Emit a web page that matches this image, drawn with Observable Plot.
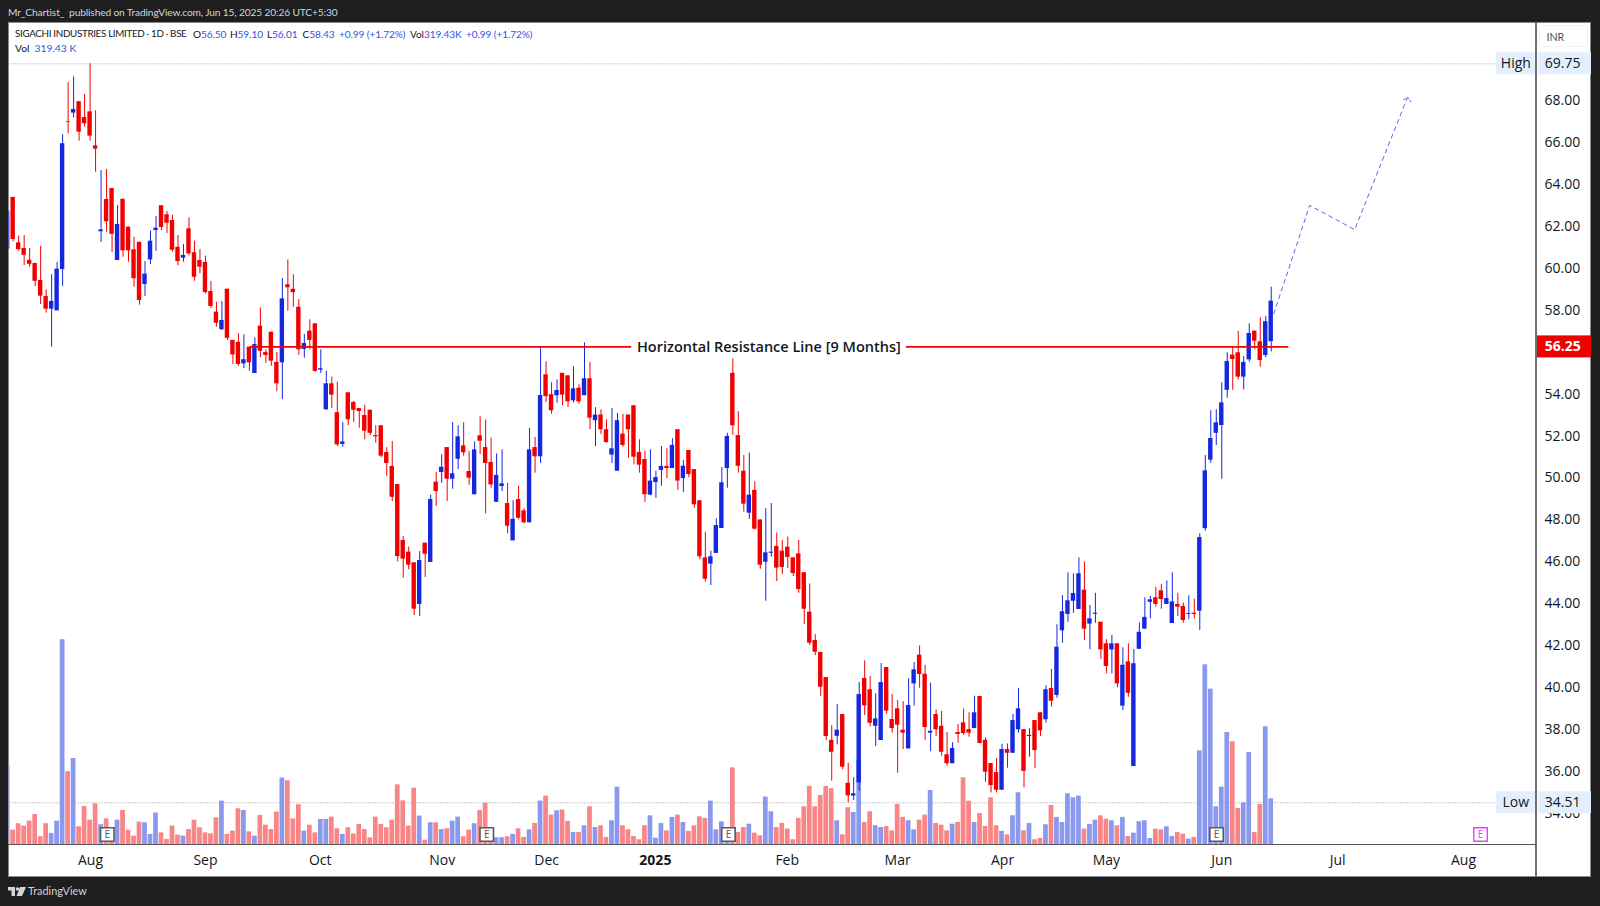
<!DOCTYPE html>
<html>
<head>
<meta charset="utf-8">
<script src="https://cdn.jsdelivr.net/npm/d3@7"></script>
<script src="https://cdn.jsdelivr.net/npm/@observablehq/plot@0.6"></script>
<style>
html,body{margin:0;padding:0;width:1600px;height:906px;overflow:hidden;background:#1e1e1e;}
#wrap{position:relative;width:1600px;height:906px;font-family:"Open Sans",sans-serif;}
.t{position:absolute;white-space:nowrap;line-height:1;font-family:Lato,sans-serif;}
#panel{position:absolute;left:8px;top:22px;width:1583px;height:855px;background:#fff;box-sizing:border-box;border:1px solid #8a8a8a;}
#vline{position:absolute;left:1535px;top:22px;width:2px;height:855px;background:#6f6f6f;}
#hline{position:absolute;left:8px;top:844px;width:1528px;height:1.4px;background:#555;}
#inr{position:absolute;left:1539px;top:25px;width:49px;height:22px;border:1px solid #f0f3fa;border-radius:4px;box-sizing:border-box;}
svg.plot{position:absolute;left:0;top:0;}
.v{color:#3553e4}
.k{color:#131722}
.l{font-size:10.1px;top:29px;letter-spacing:-0.1px}
.l2{font-size:10.3px;top:43px}
</style>
</head>
<body>
<div id="wrap">
<div id="panel"></div>
<div id="chart"></div>
<div id="vline"></div>
<div id="hline"></div>
<div id="inr"></div>
<div class="t" style="left:8px;top:7px;font-size:10.2px;letter-spacing:-0.14px;color:#d1d4dc">Mr_Chartist_ &nbsp;published on TradingView.com, Jun 15, 2025 20:26 UTC+5:30</div>
<div class="t k l" style="left:15px;font-size:9.8px;letter-spacing:-0.32px">SIGACHI INDUSTRIES LIMITED · 1D · BSE</div>
<div class="t k l" style="left:193px">O<span class="v">56.50</span></div>
<div class="t k l" style="left:230px">H<span class="v">59.10</span></div>
<div class="t k l" style="left:267px">L<span class="v">56.01</span></div>
<div class="t k l" style="left:302.5px">C<span class="v">58.43</span></div>
<div class="t v l" style="left:339px">+0.99 (+1.72%)</div>
<div class="t k l" style="left:410px">Vol<span class="v">319.43K</span></div>
<div class="t v l" style="left:466px">+0.99 (+1.72%)</div>
<div class="t k l2" style="left:15px">Vol</div>
<div class="t v l2" style="left:34.5px">319.43 K</div>
<div class="t" style="left:1546.5px;top:32px;font-size:10.6px;color:#4a4f5c">INR</div>
<svg width="18" height="10" style="position:absolute;left:8px;top:887px" viewBox="0 0 36 20"><path fill="#d1d4dc" d="M0 0h14v18H7V7H0zM24 0h12l-8 18H17z"/><circle cx="19" cy="4" r="3.6" fill="#d1d4dc"/></svg>
<div class="t" style="left:28px;top:885.5px;font-size:10.9px;color:#d1d4dc">TradingView</div>
</div>
<script>
const open = [
60.91,63.38,61.21,60.94,60.38,60.23,59.42,58.65,58.05,57.97,
59.94,66.98,67.40,67.94,67.19,67.46,65.84,61.74,63.28,63.80,
60.37,63.29,61.96,60.88,61.24,59.23,60.40,61.80,62.98,62.55,
62.28,61.00,60.48,61.88,60.74,60.37,60.28,58.89,57.91,57.07,
59.00,56.56,56.47,55.44,56.24,54.98,57.24,55.98,56.95,55.51,
55.49,59.21,59.00,58.14,56.13,57.00,57.35,55.14,53.25,54.49,
53.11,51.60,54.06,53.60,53.31,52.98,53.23,52.02,52.49,51.21,
50.55,49.69,47.02,46.46,45.95,43.97,46.89,45.97,49.80,50.26,
51.45,49.94,50.89,51.53,50.31,49.20,52.01,51.45,50.74,48.84,
49.59,48.78,47.00,48.97,48.43,47.86,51.45,51.01,54.92,53.97,
53.92,54.99,54.87,53.68,54.28,53.92,54.73,52.73,53.00,52.30,
51.09,50.32,52.09,53.00,53.44,51.21,50.88,49.18,49.78,50.36,
50.55,50.45,52.30,49.97,51.31,50.40,48.91,46.19,45.89,46.40,
47.59,50.45,54.99,52.02,50.32,48.32,49.41,48.00,45.98,46.41,
46.73,46.51,46.70,46.19,46.38,45.48,43.60,42.25,41.68,40.48,
37.49,37.68,38.72,35.44,34.83,35.46,40.44,39.90,38.16,37.48,
40.96,38.48,38.99,37.97,37.08,40.18,41.55,40.64,37.83,38.72,
38.16,36.80,36.37,37.86,38.32,38.00,38.05,39.58,37.49,36.38,
35.95,35.11,37.05,36.87,37.99,38.00,37.67,38.43,38.80,38.47,
39.96,39.63,42.71,43.49,44.12,43.73,44.65,43.03,43.50,43.12,
42.09,41.80,42.09,39.12,41.23,36.24,41.83,42.79,44.07,44.29,
44.62,43.97,43.06,43.97,43.87,43.49,43.55,43.65,47.58,50.85,
52.13,52.50,54.18,55.86,55.97,54.81,55.63,57.00,56.49,55.84,
56.50];
const close = [
62.72,61.37,60.89,60.62,60.19,59.38,58.67,58.05,58.42,59.96,
65.94,66.95,67.57,66.49,66.89,66.30,65.68,61.83,62.22,61.62,
62.09,60.83,60.83,59.50,58.46,59.72,61.29,61.91,61.94,62.15,
60.86,60.32,60.61,60.69,59.57,60.05,58.84,58.18,57.38,57.51,
56.66,55.87,55.41,55.64,55.49,56.36,56.04,55.84,55.57,54.49,
58.54,59.07,58.84,56.11,56.41,56.56,55.08,55.21,54.49,53.95,
51.58,51.72,52.77,53.23,53.17,52.23,52.13,51.96,51.04,50.69,
49.08,46.25,46.13,45.84,43.74,46.06,46.36,48.97,49.35,50.51,
49.94,50.20,51.96,51.20,49.99,51.34,51.75,50.69,49.67,50.12,
49.72,47.70,48.03,48.08,47.86,51.34,51.01,53.93,53.88,53.20,
54.17,53.95,53.63,54.25,53.63,54.73,52.85,53.00,52.30,51.69,
51.39,52.73,51.55,52.30,50.99,50.61,49.20,49.85,50.02,50.55,
50.45,51.55,49.85,50.56,50.16,48.72,46.24,45.17,46.24,47.73,
49.77,51.98,52.49,50.56,48.75,49.18,47.56,45.84,46.43,46.46,
45.70,45.73,46.21,45.44,44.68,43.74,42.12,41.69,40.02,37.67,
36.92,37.97,36.21,34.84,34.94,39.67,39.13,38.30,38.51,40.24,
38.88,38.05,38.21,37.83,39.15,40.85,40.63,38.10,37.92,37.99,
36.92,36.37,37.10,37.77,37.81,37.83,38.80,37.34,35.97,35.33,
35.11,37.05,36.87,38.43,38.99,36.01,37.72,37.00,37.94,39.90,
39.35,41.93,43.62,44.14,44.49,45.43,42.79,43.28,43.55,41.80,
41.01,42.09,40.18,41.07,39.73,41.14,42.64,43.35,44.19,43.97,
44.20,44.25,44.09,43.84,43.20,43.53,43.49,47.16,50.34,51.88,
52.63,53.58,55.55,55.65,54.81,55.51,56.89,56.52,55.60,57.45,
58.43];
const high = [
62.72,63.38,61.53,61.56,60.94,60.23,61.05,58.97,59.69,60.28,
66.37,68.85,69.13,67.94,68.29,69.75,67.51,64.66,64.71,63.80,
62.99,63.29,61.96,61.48,61.24,60.32,61.77,62.47,62.98,62.71,
62.52,61.56,61.13,62.41,61.29,60.89,60.58,59.37,58.38,58.42,
59.00,56.56,56.88,56.83,56.24,56.68,58.11,56.11,56.95,55.98,
59.51,60.40,59.69,58.51,56.84,57.54,57.35,56.11,55.08,54.81,
54.57,52.64,54.06,53.65,53.31,53.47,53.23,52.49,52.49,51.44,
51.74,49.69,47.21,46.70,45.95,46.49,46.89,49.18,50.27,51.10,
51.45,52.64,52.49,52.64,51.26,51.72,52.92,52.76,51.90,51.15,
51.34,49.74,48.91,49.61,48.53,52.36,51.93,56.22,55.54,54.54,
54.68,54.99,54.87,55.30,54.44,56.44,55.51,53.35,53.25,52.77,
53.31,53.07,53.03,53.00,53.44,51.82,51.28,51.34,50.32,51.50,
51.39,51.87,52.30,50.83,51.31,50.40,48.91,47.41,46.51,48.05,
50.49,52.13,55.68,53.16,51.07,51.18,49.82,48.00,48.54,48.78,
47.38,47.02,47.18,46.19,47.02,45.48,44.95,42.53,41.68,40.48,
38.19,39.20,38.72,36.40,35.70,40.25,41.28,40.53,39.71,41.15,
40.96,39.67,39.39,39.33,40.42,41.20,41.99,41.06,40.21,38.94,
38.86,37.86,37.38,38.24,38.99,38.80,39.59,39.58,37.61,36.38,
36.63,37.30,37.32,38.72,39.97,38.00,38.04,38.43,38.80,40.09,
40.87,43.00,44.39,45.48,45.43,46.19,46.00,43.92,44.50,43.12,
42.28,42.49,42.09,41.90,42.09,41.82,43.09,44.28,44.35,44.78,
44.93,45.09,45.48,44.50,44.03,44.38,44.22,47.34,51.07,53.20,
53.26,54.54,55.97,56.24,57.00,55.79,57.35,57.00,57.64,57.71,
59.10];
const low = [
60.91,61.26,60.81,60.13,60.05,59.13,58.27,57.86,56.24,57.97,
59.14,66.41,67.16,66.06,66.73,66.06,64.58,61.23,61.72,60.75,
60.37,60.53,60.29,59.10,58.24,58.65,60.18,60.81,61.80,61.66,
60.77,60.12,60.29,60.59,59.38,59.74,58.78,58.08,57.19,57.03,
56.56,55.41,55.33,55.21,55.09,54.98,55.73,55.47,55.33,54.11,
53.74,57.95,58.14,55.84,55.71,56.11,55.04,54.98,53.22,53.31,
51.50,51.47,52.49,52.64,52.37,51.82,52.02,51.66,50.96,50.08,
48.88,46.00,45.22,45.62,43.44,43.39,45.25,45.97,48.64,49.74,
48.88,49.46,50.40,51.04,49.65,49.20,51.12,48.29,49.51,48.84,
49.35,47.34,47.00,48.00,47.81,47.86,50.23,50.69,53.60,53.04,
53.57,53.44,53.36,53.57,53.52,53.92,52.30,51.50,52.06,51.66,
50.69,50.32,51.47,50.94,50.63,50.23,48.83,49.15,49.03,49.61,
49.97,50.45,49.40,49.31,50.01,48.56,46.10,45.03,44.87,46.40,
47.59,49.51,52.04,50.23,48.37,48.02,47.51,45.65,44.12,46.22,
45.06,45.39,45.68,45.30,44.50,43.01,42.01,41.53,39.59,37.48,
35.54,37.27,36.08,34.51,34.62,35.06,38.67,38.13,37.19,37.48,
38.73,37.83,35.92,37.05,37.08,39.12,39.97,37.49,36.95,37.67,
36.73,36.25,36.37,37.35,37.73,37.64,38.05,37.32,35.48,34.98,
34.98,35.11,36.16,36.87,37.83,35.22,36.68,36.13,37.67,38.31,
39.07,39.50,42.12,43.12,43.55,43.73,42.25,41.80,43.07,41.34,
40.66,40.66,39.99,38.91,39.54,36.24,41.83,42.79,43.28,43.84,
43.74,43.97,43.06,43.39,43.07,43.24,43.27,42.73,47.46,50.70,
51.55,49.94,53.80,54.18,54.68,54.20,55.52,56.11,55.28,55.73,
56.01];
const volumeK = [
548,102,146,130,164,210,56,146,79,164,
1423,507,599,125,266,171,284,139,180,120,
171,238,102,60,157,153,72,220,83,37,
130,67,60,106,171,118,83,76,187,303,
72,95,250,238,90,60,204,136,106,227,
463,444,180,278,95,136,83,176,176,192,
111,72,118,76,141,106,49,192,141,118,
171,416,305,130,393,199,32,153,153,106,
111,164,192,56,102,146,238,289,120,49,
49,56,72,111,51,104,148,303,338,206,
236,241,162,86,86,132,264,120,132,51,
167,400,132,104,58,35,132,201,46,148,
97,190,206,155,93,132,194,183,303,104,
160,99,534,86,120,143,81,62,331,229,
120,148,109,35,183,264,405,264,342,405,
389,167,69,257,224,585,155,229,132,120,
127,97,280,190,167,104,171,206,377,148,
136,97,143,155,465,303,155,217,127,326,
132,93,69,201,361,97,148,35,44,139,
273,190,155,354,326,338,109,141,171,201,
178,167,132,190,58,81,160,167,44,109,
104,125,58,86,74,39,51,652,1249,1080,
264,400,779,715,252,291,641,86,280,819,
319.43];

const yTicks = [34,36,38,40,42,44,46,48,50,52,54,58,60,62,64,66,68];
const monthBars = [15.08,36,56.9,79.1,98.1,141.9,162,181.1,200,221,242.1,265];
const monthLabels = ["Aug","Sep","Oct","Nov","Dec","Feb","Mar","Apr","May","Jun","Jul","Aug"];
const yearBar = 117.9, yearLabel = "2025";
const resistance = 56.25, resistanceSegments = [[44.2,113.6],[163.6,233.2]];
const resistanceText = "Horizontal Resistance Line [9 Months]", resistanceTextBar = 114.55;
const projectionBars = [230.47,237.0,245.2,254.75];
const projectionPrices = [57.83,63.0,61.84,68.11];
const arrowBars = [254.1,254.9,255.4];
const arrowPrices = [68.05,68.14,67.95];
const highPrice = 69.75, lowPrice = 34.51;
const earningsBars = [18.13,87.2,131.2,220.05], futureEarningsBar = 268.1, earningsPrice = 33.0;

const RED = "#f00000", BLUE = "#1428e0", VRED = "#f98686", VBLUE = "#8a99ee";
const xDomain = [0.24,278.29], yDomain = [32.506,71.696];
const volPerPrice = 145.5;   // volume overlay: thousand shares per price unit
const bars = open.map((o,i)=>({i,o,c:close[i],h:high[i],l:low[i],v:volumeK[i],up:close[i]>=o}));
const w = 0.4, vw = 0.43;
const pl = 272.0, pr = 278.06, al = 278.3, ar = 288.3, boxH = 0.525;
const tagX = 279.8;
const font = "'Open Sans',sans-serif";

const chart = Plot.plot({
  width:1600,height:906,marginLeft:8.5,marginRight:64,marginTop:22.5,marginBottom:61.7,
  x:{domain:xDomain,axis:null},y:{domain:yDomain,axis:null},color:{type:"identity"},
  style:{background:"transparent",fontFamily:font,color:"#131722",overflow:"visible"},
  marks:[
    Plot.ruleY([highPrice],{x1:xDomain[0],x2:271,stroke:"#9a9a9a",strokeDasharray:"1,2"}),
    Plot.ruleY([lowPrice],{x1:xDomain[0],x2:271,stroke:"#9a9a9a",strokeDasharray:"1,2"}),
    Plot.rect(bars,{x1:d=>d.i-vw,x2:d=>d.i+vw,y1:yDomain[0],y2:d=>yDomain[0]+d.v/volPerPrice,fill:d=>d.up?VBLUE:VRED,clip:true}),
    Plot.ruleX(bars,{x:"i",y1:"l",y2:"h",stroke:d=>d.up?BLUE:RED,strokeWidth:1,clip:true}),
    Plot.rect(bars,{x1:d=>d.i-w,x2:d=>d.i+w,y1:"o",y2:"c",fill:d=>d.up?BLUE:RED,clip:true}),
    Plot.line(projectionBars.map((x,k)=>({x,y:projectionPrices[k]})),{x:"x",y:"y",stroke:"#5468f0",strokeWidth:1,strokeDasharray:"4,4"}),
    Plot.line(arrowBars.map((x,k)=>({x,y:arrowPrices[k]})),{x:"x",y:"y",stroke:"#5468f0",strokeWidth:1,strokeDasharray:"2,2"}),
    ...resistanceSegments.map(s=>Plot.ruleY([resistance],{x1:s[0],x2:s[1],stroke:"#f00000",strokeWidth:1.6})),
    Plot.text([resistanceText],{x:resistanceTextBar,y:resistance,text:d=>d,textAnchor:"start",lineAnchor:"middle",fontSize:14.5,fontWeight:600,fill:"#131722"}),
    Plot.dot(earningsBars,{x:d=>d,y:earningsPrice,symbol:"square",r:7.6,fill:"#fff",stroke:"#5a5a5a",strokeWidth:1.6}),
    Plot.text(earningsBars,{x:d=>d,y:earningsPrice,text:()=>"E",fontSize:10,fill:"#555"}),
    Plot.dot([futureEarningsBar],{x:d=>d,y:earningsPrice,symbol:"square",r:7.6,fill:"#fff",stroke:"#e040fb",strokeWidth:1.4}),
    Plot.text([futureEarningsBar],{x:d=>d,y:earningsPrice,text:()=>"E",fontSize:10,fill:"#e040fb"}),
    Plot.axisY(yTicks,{anchor:"right",tickSize:0,tickPadding:8,tickFormat:d3.format(".2f"),fontSize:14,fill:"#131722"}),
    Plot.axisX(monthBars,{anchor:"bottom",tickSize:0,tickPadding:10,tickFormat:d=>monthLabels[monthBars.indexOf(d)],fontSize:14,fill:"#131722"}),
    Plot.axisX([yearBar],{anchor:"bottom",tickSize:0,tickPadding:10,tickFormat:()=>yearLabel,fontSize:14,fontWeight:700,fill:"#131722"}),
    Plot.rect([highPrice,lowPrice],{x1:pl-1,x2:pr,y1:d=>d-boxH,y2:d=>d+boxH,fill:"#e3effd"}),
    Plot.rect([highPrice,lowPrice],{x1:al+0.35,x2:ar,y1:d=>d-boxH,y2:d=>d+boxH,fill:"#e3effd"}),
    Plot.text(["High","Low"],{x:(pl-1+pr)/2,y:d=>d==="High"?highPrice:lowPrice,text:d=>d,fontSize:14,fill:"#131722"}),
    Plot.text([highPrice,lowPrice],{x:tagX,y:d=>d,text:d=>d.toFixed(2),textAnchor:"start",fontSize:14,fill:"#131722"}),
    Plot.rect([resistance],{x1:al,x2:ar,y1:d=>d-boxH,y2:d=>d+boxH,fill:"#f00000"}),
    Plot.text([resistance],{x:tagX,y:d=>d,text:d=>d.toFixed(2),textAnchor:"start",fontSize:14,fontWeight:700,fill:"#fff"})
  ]
});
chart.classList.add("plot");
document.getElementById("chart").appendChild(chart);
</script>
</body>
</html>
